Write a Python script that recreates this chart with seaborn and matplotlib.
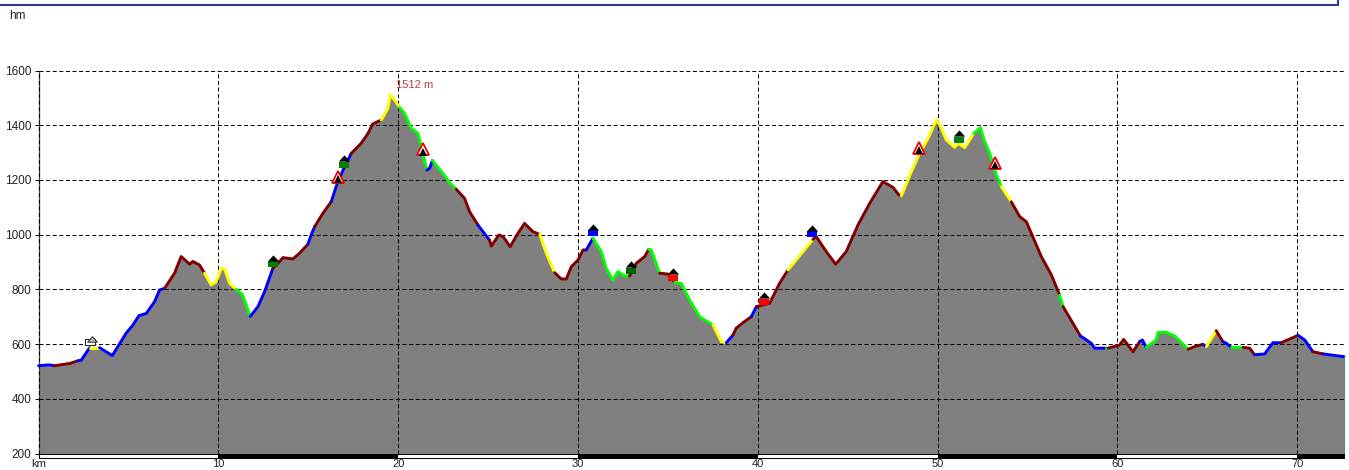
import matplotlib
matplotlib.use("Agg")
import matplotlib.pyplot as plt
from matplotlib.lines import Line2D
from matplotlib.path import Path
from matplotlib.transforms import ScaledTranslation
import pandas as pd
import seaborn as sns

sns.set_theme(style="white")
plt.rcParams["font.family"] = ["Liberation Sans", "DejaVu Sans"]

# Elevation profile, one row per run of constant slope class
km = [0.0, 0.61, 0.89,
      1.72, 2.19,
      2.37, 2.84,
      3.39,
      4.10, 4.87, 5.25, 5.58, 5.99, 6.45, 6.73, 7.01,
      7.56, 7.93, 8.40, 8.58, 8.95, 9.23,
      9.60, 9.88, 10.16, 10.34, 10.62, 10.99,
      11.33, 11.77,
      12.2, 12.57, 13.03,
      13.31, 13.59, 14.14, 14.51, 14.98,
      15.16, 15.35,
      15.81, 16.28,
      16.55, 16.93, 17.39,
      17.94, 18.32, 18.59, 19.06,
      19.43, 19.56, 19.80, 20.08,
      20.35, 20.73, 21.10, 21.28, 21.60,
      21.75, 21.9,
      22.49, 22.86, 23.23,
      23.69, 23.97, 24.44,
      25.08,
      25.18, 25.60, 25.83, 26.23, 26.66, 27.03, 27.49, 27.87,
      28.24, 28.70,
      29.07, 29.35, 29.63, 30.0, 30.28, 30.46,
      30.83,
      31.3, 31.57, 31.94, 32.22, 32.59, 32.87,
      33.24, 33.71, 33.93,
      34.08, 34.54,
      35.0, 35.37,
      35.74, 36.21, 36.77, 37.14, 37.51,
      37.97, 38.25,
      38.62,
      38.8, 39.17, 39.64,
      39.92,
      40.66, 41.21, 41.68,
      43.07,
      43.25, 43.81, 44.33, 44.92, 45.57, 46.22, 46.96, 47.52, 47.85, 47.98,
      48.54, 49.0, 49.47, 49.93, 50.12, 50.49, 50.95, 51.14, 51.51, 52.01,
      52.38, 52.62, 52.9, 53.27, 53.55,
      54.1,
      54.57, 54.94, 55.77, 56.33, 56.79,
      56.98,
      57.53, 57.94,
      58.55, 58.74, 59.38,
      59.48,
      60.13, 60.35, 60.87, 61.24,
      61.39, 61.61,
      62.17, 62.26, 62.72, 63.19, 63.93,
      64.3, 64.76,
      64.95,
      65.5,
      65.87,
      66.06, 66.34,
      66.99,
      67.36, 67.63,
      68.19, 68.65, 69.12,
      70.05,
      70.42, 70.88,
      71.44,
      72.6]
elev = [521, 524, 521,
        529, 539,
        541, 587,
        587,
        558, 640, 670, 704, 712, 755, 798, 804,
        859, 920, 892, 902, 889, 859,
        816, 828, 877, 875, 822, 800,
        782, 701,
        737, 792, 877,
        895, 916, 911, 932, 965,
        999, 1029,
        1078, 1121,
        1176, 1236, 1297,
        1334, 1370, 1405, 1419,
        1462, 1511, 1492, 1465,
        1444, 1389, 1370, 1322, 1236,
        1243, 1271,
        1224, 1190, 1166,
        1133, 1084, 1035,
        980,
        958, 999, 993, 956, 1005, 1041, 1011, 1001,
        932, 861,
        838, 838, 883, 907, 944, 944,
        987,
        938, 877, 834, 865, 849, 849,
        895, 920, 946,
        944, 859,
        856, 825,
        822, 761, 700, 684, 670,
        609, 605,
        633,
        658, 678, 700,
        737,
        749, 822, 871,
        983,
        993, 938, 892, 938, 1035, 1114, 1194, 1173, 1145, 1141,
        1230, 1297, 1352, 1419, 1401, 1346, 1319, 1334, 1318, 1370,
        1391, 1340, 1297, 1218, 1175,
        1120,
        1066, 1047, 920, 853, 779,
        737,
        676, 630,
        603, 585, 585,
        585,
        597, 617, 572, 609,
        615, 588,
        615, 643, 643, 630, 581,
        591, 599,
        590,
        649,
        609,
        603, 588,
        588,
        585, 561,
        564, 605, 605,
        632,
        615, 572,
        564,
        554]
run_colors = ["#0000FF", "#800000", "#0000FF", "#FFFF00", "#0000FF", "#800000", "#FFFF00", "#00FF00",
              "#0000FF", "#800000", "#0000FF", "#800000", "#0000FF", "#800000", "#FFFF00", "#00FF00",
              "#0000FF", "#00FF00", "#800000", "#0000FF", "#800000", "#FFFF00", "#800000", "#0000FF",
              "#00FF00", "#800000", "#00FF00", "#800000", "#00FF00", "#FFFF00", "#0000FF", "#800000",
              "#0000FF", "#800000", "#FFFF00", "#800000", "#FFFF00", "#00FF00", "#FFFF00", "#800000",
              "#00FF00", "#800000", "#0000FF", "#00FF00", "#800000", "#0000FF", "#00FF00", "#800000",
              "#0000FF", "#FFFF00", "#800000", "#0000FF", "#00FF00", "#800000", "#0000FF", "#800000",
              "#0000FF", "#800000", "#0000FF"]
run_lengths = [2, 2, 2, 1, 8, 6, 6, 2,
               3, 5, 2, 2, 3, 4, 4, 5,
               2, 3, 3, 1, 8, 2, 6, 1,
               6, 3, 2, 2, 5, 2, 1, 3,
               1, 3, 1, 10, 10, 5, 1, 5,
               1, 2, 3, 1, 4, 2, 5, 2,
               1, 1, 1, 2, 1, 2, 3, 1,
               2, 1, 1]

hut_km = [13.03, 16.98, 30.83, 32.93, 35.28, 40.32, 43.03, 51.17]
hut_elev = [891, 1255, 1005, 868, 843, 755, 1001, 1346]
hut_colors = ["#008000", "#008000", "#0000FF", "#006400", "#FF0000", "#FF0000", "#0000FF", "#008000"]
pass_km = [16.65, 21.37, 48.95, 53.21]
pass_elev = [1212, 1313, 1318, 1263]
cabin_km = [2.87]
cabin_elev = [609]
y_ticks = [200, 400, 600, 800, 1000, 1200, 1400, 1600]
x_ticks = [0, 10, 20, 30, 40, 50, 60, 70]
x_tick_labels = ["km", "10", "20", "30", "40", "50", "60", "70"]
band_starts = [10, 30, 50, 70]
band_widths = [10, 10, 10, 2.6]
peak_label = "1512 m"
peak_km, peak_elev = 19.9, 1548

W, H = 1349, 470
fig = plt.figure(figsize=(W / 100, H / 100), dpi=100, facecolor="white")


def px_axes(x0, y0, x1, y1):
    return fig.add_axes([x0 / W, 1 - y1 / H, (x1 - x0) / W, (y1 - y0) / H])


ax = px_axes(38.6, 70.5, 1343.9, 453.5)
ax.set_xlim(0, 72.6)
ax.set_ylim(200, 1600)
ax.set_facecolor("white")

ax.fill_between(km, elev, 200, color="#808080", lw=0, zorder=1)
ax.grid(True, color="black", lw=0.72, linestyle=(0, (4, 2.6)), zorder=2)
ax.set_axisbelow(False)
for gl in ax.get_xgridlines() + ax.get_ygridlines():
    gl.set_zorder(2)

# Profile line, coloured by slope class
start = 0
for color, n in zip(run_colors, run_lengths):
    seg = pd.DataFrame({"km": km[start:start + n + 1], "elev": elev[start:start + n + 1]})
    sns.lineplot(data=seg, x="km", y="elev", ax=ax, color=color, lw=2.1, sort=False,
                 estimator=None, errorbar=None, zorder=3, solid_capstyle="round",
                 solid_joinstyle="round", clip_on=False)
    start += n
ax.set_xlabel("")
ax.set_ylabel("")

ax.axvline(km[-1], color="#2a9a9a", lw=0.7, zorder=3, ymax=(elev[-1] - 200) / 1400, clip_on=False)

# Ticks and frame
ax.set_yticks(y_ticks)
ax.set_yticklabels([str(v) for v in y_ticks], fontsize=8.5, color="#222222")
ax.tick_params(axis="y", length=3, width=0.7, pad=2.2, left=True, color="black")
ax.set_xticks(x_ticks)
ax.tick_params(axis="x", length=0, labelbottom=False)
for s in ["top", "right", "bottom"]:
    ax.spines[s].set_visible(False)
ax.spines["left"].set_color("#555555")
ax.spines["left"].set_linewidth(1.0)

# Markers
dpi_tr = fig.dpi_scale_trans
roof_tr = ax.transData + ScaledTranslation(0, 6.5 / 100, dpi_tr)
black_tr = ax.transData + ScaledTranslation(0, -2.5 / 100, dpi_tr)
body = Path([(-1, -0.6), (1, -0.6), (1, 0.6), (-1, 0.6), (-1, -0.6)], closed=True)
roof = Path([(-1, -0.55), (1, -0.55), (0, 0.55), (-1, -0.55)], closed=True)

for x, y, c in zip(hut_km, hut_elev, hut_colors):
    ax.plot([x], [y], marker=body, ms=7.4, mfc=c, mec=c, mew=0, ls="none", zorder=5)
    ax.plot([x], [y], marker=roof, ms=8.2, mfc="black", mec="black", mew=0, ls="none",
            zorder=5, transform=roof_tr)

ax.plot(pass_km, pass_elev, marker="^", ms=8.2, mfc="white", mec="#EE0000", mew=1.3,
        ls="none", zorder=5)
ax.plot(pass_km, pass_elev, marker="^", ms=5.2, mfc="black", mec="black", mew=0,
        ls="none", zorder=6, transform=black_tr)

ax.plot(cabin_km, cabin_elev, marker=body, ms=6.5, mfc="white", mec="#222222", mew=0.7,
        ls="none", zorder=5)
ax.plot(cabin_km, cabin_elev, marker=roof, ms=7, mfc="#bbbbbb", mec="#222222", mew=0.7,
        ls="none", zorder=5, transform=ax.transData + ScaledTranslation(2 / 100, 3 / 100, dpi_tr))

ax.text(peak_km, peak_elev, peak_label, color="#c8383a", fontsize=8, ha="left", va="center",
        zorder=6, clip_on=False)

# Distance scale bar
band = px_axes(38.6, 453.5, 1343.9, 457.5)
band.set_xlim(0, 72.6)
band.set_ylim(0, 1)
band.barh([0.5] * len(band_starts), band_widths, left=band_starts, height=1, color="black", lw=0)
band.set_yticks([])
band.set_xticks(x_ticks)
band.set_xticklabels(x_tick_labels, fontsize=8, color="#222222")
band.tick_params(axis="x", length=0, pad=1.0)
for s in band.spines.values():
    s.set_color("black")
    s.set_linewidth(0.7)

fig.text(9 / W, 1 - 16 / H, "hm", fontsize=8.5, color="#222222", ha="left", va="center")

# Frame remnant at the top of the picture
fig.add_artist(Line2D([0, 1338 / W], [1 - 5 / H, 1 - 5 / H], color="#333399", lw=1.5))
fig.add_artist(Line2D([1338 / W, 1338 / W], [1 - 5 / H, 1], color="#333399", lw=1.5))

fig.savefig("out.png", dpi=100, facecolor="white")
